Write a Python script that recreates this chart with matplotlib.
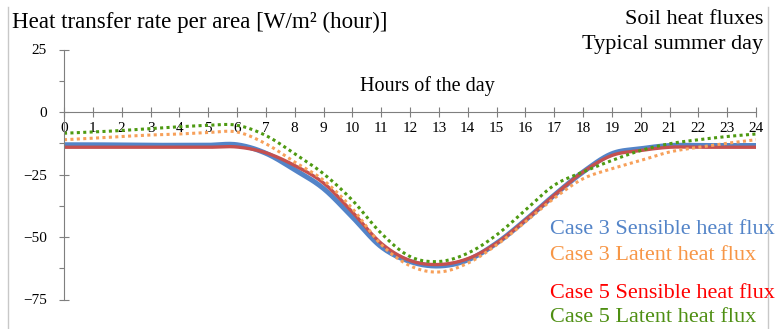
import numpy as np
import matplotlib
matplotlib.use("Agg")
import matplotlib.pyplot as plt
from matplotlib.lines import Line2D

# hourly values (W/m2)
hours = list(range(25))
case3_sensible = [-13.1, -13.1, -13.2, -13.3, -13.3, -13.3, -13.1, -16.5, -23.1, -30.6, -42.0,
                  -53.9, -59.8, -61.6, -59.2, -52.5, -43.3, -33.3, -24.0, -16.7, -14.7, -13.4,
                  -13.4, -13.4, -13.4]
case3_latent = [-11.1, -10.5, -9.8, -9.2, -8.8, -8.2, -8.0, -12.7, -20.0, -27.3, -38.6,
                -53.0, -61.5, -64.0, -60.5, -53.2, -44.0, -34.5, -26.7, -22.7, -19.4, -16.0,
                -14.1, -12.5, -11.1]
case5_sensible = [-14.1, -14.1, -14.1, -14.1, -14.1, -14.1, -14.0, -16.3, -21.4, -28.4, -40.0,
                  -52.5, -59.4, -61.0, -58.7, -52.5, -43.3, -33.3, -24.0, -17.4, -15.4, -14.1,
                  -14.1, -14.1, -14.1]
case5_latent = [-8.5, -8.0, -7.4, -6.6, -5.9, -5.3, -5.3, -9.4, -16.7, -24.7, -35.3,
                -48.5, -57.8, -59.8, -56.5, -49.2, -39.3, -29.3, -24.0, -19.4, -15.4, -12.7,
                -11.1, -9.8, -8.8]

labels = ["Case 3 Sensible heat flux", "Case 3 Latent heat flux",
          "Case 5 Sensible heat flux", "Case 5 Latent heat flux"]


def smooth(x, y, n=20):
    # Catmull-Rom like Excel's smoothed line
    x = np.asarray(x, float)
    y = np.asarray(y, float)
    px = np.concatenate([[x[0]], x, [x[-1]]])
    py = np.concatenate([[y[0]], y, [y[-1]]])
    xs, ys = [], []
    t = np.linspace(0, 1, n, endpoint=False)
    for i in range(1, len(px) - 2):
        for p, out in ((px, xs), (py, ys)):
            p0, p1, p2, p3 = p[i - 1], p[i], p[i + 1], p[i + 2]
            out.extend(0.5 * ((2 * p1) + (-p0 + p2) * t + (2 * p0 - 5 * p1 + 4 * p2 - p3) * t ** 2
                              + (-p0 + 3 * p1 - 3 * p2 + p3) * t ** 3))
    xs.append(x[-1])
    ys.append(y[-1])
    return np.array(xs), np.array(ys)


plt.rcParams['font.family'] = ['Liberation Serif', 'DejaVu Serif']

fig = plt.figure(figsize=(7.82, 3.29), dpi=100)
ax = fig.add_axes([64 / 782, 1 - 299.5 / 329, 692 / 782, 250 / 329])

blue = "#5384C8"
orange = "#F7A05A"
red = "#C5504F"
green = "#4E9A12"

ax.plot(*smooth(hours, case3_sensible), color=blue, lw=3.6, solid_capstyle='butt')
ax.plot(*smooth(hours, case5_sensible), color=red, lw=2.4, solid_capstyle='butt')
ax.plot(*smooth(hours, case3_latent), color=orange, lw=2.2, linestyle=(0, (1, 1.1)))
ax.plot(*smooth(hours, case5_latent), color=green, lw=2.2, linestyle=(0, (1, 1.1)))

ax.set_xlim(0, 24)
ax.set_ylim(-75, 25)
ax.set_yticks([25, 0, -25, -50, -75])
ax.set_yticks(np.arange(-75, 25, 12.5), minor=True)
ax.set_xticks(hours)
ax.set_xticklabels([str(h) for h in hours])

for s in ['top', 'right']:
    ax.spines[s].set_visible(False)
ax.spines['bottom'].set_position(('data', 0))
ax.spines['left'].set_color('#7f7f7f')
ax.spines['bottom'].set_color('#7f7f7f')
ax.tick_params(axis='x', direction='inout', length=7, width=0.8, color='#7f7f7f',
               labelsize=11, pad=4)
ax.tick_params(axis='y', which='major', direction='inout', length=7, width=0.8,
               color='#7f7f7f', labelsize=11, pad=9)
ax.tick_params(axis='y', which='minor', direction='out', length=3.5, width=0.8, color='#7f7f7f')
ax.patch.set_alpha(0)

fig.text(12 / 782, 1 - 22 / 329, "Heat transfer rate per area [W/m² (hour)]",
         fontsize=16.6, ha='left', va='center')
fig.text(763 / 782, 1 - 19 / 329, "Soil heat fluxes", fontsize=16, ha='right', va='center')
fig.text(763 / 782, 1 - 45 / 329, "Typical summer day", fontsize=16, ha='right', va='center')
fig.text(427 / 782, 1 - 86 / 329, "Hours of the day", fontsize=14.5, ha='center', va='center')

legend_colors = ["#5384C8", "#F79646", "#FF0000", "#4E8F12"]
legend_y = [230, 256, 293, 318]
for lab, col, yy in zip(labels, legend_colors, legend_y):
    fig.text(550 / 782, 1 - yy / 329, lab, color=col, fontsize=16, ha='left', va='center')

# outer chart frame edges
for xx in (8, 768):
    fig.add_artist(Line2D([xx / 782, xx / 782], [0, 1 - 7 / 329], transform=fig.transFigure,
                          color='#c8c8c8', lw=1))

fig.savefig("out.png", dpi=100)
